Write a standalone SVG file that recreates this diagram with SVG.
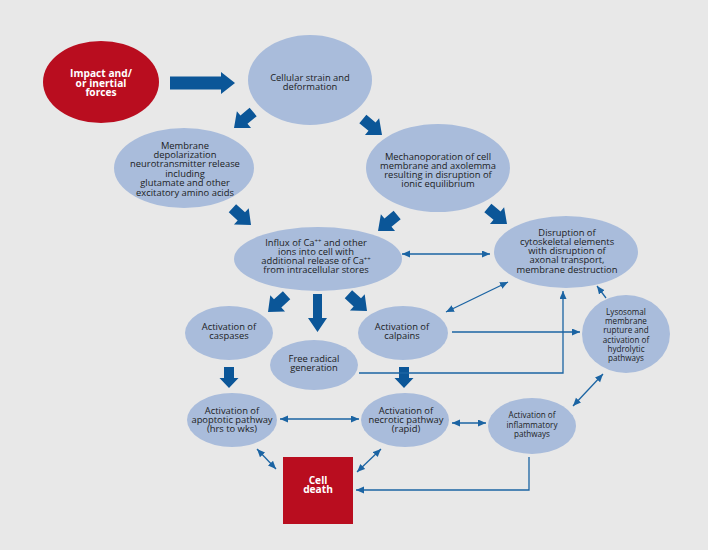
<svg xmlns="http://www.w3.org/2000/svg" xmlns:xlink="http://www.w3.org/1999/xlink" width="708" height="550" viewBox="0 0 708 550">
<style>
.n{fill:#a9bcdb}
.r{fill:#b90d1f}
.t{font-family:"Open Sans","Liberation Sans",sans-serif;font-size:9.4px;fill:#1c1c24;text-anchor:middle}
.s{font-size:8.1px}
.w{font-family:"Open Sans","Liberation Sans",sans-serif;font-size:10.2px;font-weight:bold;fill:#ffffff;text-anchor:middle}
.ln{fill:none;stroke:#1b64a3;stroke-width:1.3}
.fa{fill:#0b5698}
.sup{font-size:6px}
</style>
<defs>
<marker id="ah" markerUnits="userSpaceOnUse" markerWidth="9" markerHeight="8" refX="8" refY="3.5" orient="auto-start-reverse">
<path d="M0,0 L8,3.5 L0,7 Z" fill="#1b64a3"/>
</marker>
<path id="fat" d="M0,0 L-13,-11 L-13,-5.5 L-25,-5.5 L-25,5.5 L-13,5.5 L-13,11 Z"/>
<path id="short" d="M0,0 L-10,-9.5 L-10,-5 L-21,-5 L-21,5 L-10,5 L-10,9.5 Z"/>
<path id="long" d="M0,0 L-14,-9.5 L-14,-4.5 L-38,-4.5 L-38,4.5 L-14,4.5 L-14,9.5 Z"/>
</defs>
<rect x="0" y="0" width="708" height="550" fill="#e8e8e8"/>

<g id="impact">
<ellipse class="r" cx="101" cy="82" rx="58" ry="41"/>
<text class="w" x="101"><tspan x="101" y="77">Impact and/</tspan><tspan x="101" y="86.5">or inertial</tspan><tspan x="101" y="96">forces</tspan></text>
</g>
<g id="cellular">
<ellipse class="n" cx="310" cy="80" rx="62" ry="45"/>
<text class="t"><tspan x="310" y="81">Cellular strain and</tspan><tspan x="310" y="90">deformation</tspan></text>
</g>
<g id="membrane">
<ellipse class="n" cx="184" cy="168" rx="70" ry="40"/>
<text class="t"><tspan x="185" y="148.5">Membrane</tspan><tspan x="185" y="157.9">depolarization</tspan><tspan x="185" y="167.3">neurotransmitter release</tspan><tspan x="185" y="176.7">including</tspan><tspan x="185" y="186.1">glutamate and other</tspan><tspan x="185" y="195.5">excitatory amino acids</tspan></text>
</g>
<g id="mechano">
<ellipse class="n" cx="438" cy="168" rx="72" ry="44"/>
<text class="t"><tspan x="438" y="160.3">Mechanoporation of cell</tspan><tspan x="438" y="169.3">membrane and axolemma</tspan><tspan x="438" y="178.3">resulting in disruption of</tspan><tspan x="438" y="187.3">ionic equilibrium</tspan></text>
</g>
<g id="influx">
<ellipse class="n" cx="318" cy="259" rx="84" ry="32"/>
<text class="t"><tspan x="316" y="245.5">Influx of Ca<tspan class="sup" dy="-3">++</tspan><tspan dy="3"> and other</tspan></tspan><tspan x="316" y="254.5">ions into cell with</tspan><tspan x="316" y="263.5">additional release of Ca<tspan class="sup" dy="-3">++</tspan></tspan><tspan x="316" y="272.5">from intracellular stores</tspan></text>
</g>
<g id="disruption">
<ellipse class="n" cx="566" cy="252" rx="72" ry="36"/>
<text class="t"><tspan x="567" y="236.3">Disruption of</tspan><tspan x="567" y="245.3">cytoskeletal elements</tspan><tspan x="567" y="254.3">with disruption of</tspan><tspan x="567" y="263.3">axonal transport,</tspan><tspan x="567" y="272.8">membrane destruction</tspan></text>
</g>
<g id="caspases">
<ellipse class="n" cx="229" cy="333" rx="44" ry="27"/>
<text class="t"><tspan x="229" y="330.3">Activation of</tspan><tspan x="229" y="339.3">caspases</tspan></text>
</g>
<g id="freeradical">
<ellipse class="n" cx="314" cy="365" rx="44" ry="25"/>
<text class="t"><tspan x="314" y="362.3">Free radical</tspan><tspan x="314" y="371.3">generation</tspan></text>
</g>
<g id="calpains">
<ellipse class="n" cx="403" cy="333" rx="45" ry="27"/>
<text class="t"><tspan x="402" y="330.3">Activation of</tspan><tspan x="402" y="339.3">calpains</tspan></text>
</g>
<g id="lysosomal">
<ellipse class="n" cx="626" cy="334" rx="44" ry="39"/>
<text class="t s"><tspan x="626" y="315">Lysosomal</tspan><tspan x="626" y="324.2">membrane</tspan><tspan x="626" y="333.4">rupture and</tspan><tspan x="626" y="342.6">activation of</tspan><tspan x="626" y="351.8">hydrolytic</tspan><tspan x="626" y="361">pathways</tspan></text>
</g>
<g id="apoptotic">
<ellipse class="n" cx="232" cy="420" rx="45" ry="27"/>
<text class="t"><tspan x="232" y="414.3">Activation of</tspan><tspan x="232" y="423.3">apoptotic pathway</tspan><tspan x="232" y="432.3">(hrs to wks)</tspan></text>
</g>
<g id="necrotic">
<ellipse class="n" cx="405" cy="420" rx="44" ry="27"/>
<text class="t"><tspan x="406" y="414.3">Activation of</tspan><tspan x="406" y="423.3">necrotic pathway</tspan><tspan x="406" y="432.3">(rapid)</tspan></text>
</g>
<g id="inflammatory">
<ellipse class="n" cx="532" cy="426" rx="44" ry="28"/>
<text class="t s"><tspan x="532" y="418">Activation of</tspan><tspan x="532" y="427.5">inflammatory</tspan><tspan x="532" y="437">pathways</tspan></text>
</g>
<g id="celldeath">
<rect class="r" x="283" y="457" width="70" height="67"/>
<text class="w"><tspan x="318" y="483.5">Cell</tspan><tspan x="318" y="493">death</tspan></text>
</g>

<g id="connectors">
<path class="fa" d="M170,76.5 L221,76.5 L221,72 L235,83 L221,94 L221,89.5 L170,89.5 Z"/>
<use href="#fat" class="fa" transform="translate(234,128) rotate(140)"/>
<use href="#fat" class="fa" transform="translate(382,135) rotate(40)"/>
<use href="#fat" class="fa" transform="translate(251,225) rotate(42)"/>
<use href="#fat" class="fa" transform="translate(378,231) rotate(140)"/>
<use href="#fat" class="fa" transform="translate(507,224) rotate(40)"/>
<use href="#fat" class="fa" transform="translate(268,312) rotate(138)"/>
<use href="#fat" class="fa" transform="translate(367,311) rotate(42)"/>
<use href="#long" class="fa" transform="translate(317.5,332) rotate(90)"/>
<use href="#short" class="fa" transform="translate(229,388) rotate(90)"/>
<use href="#short" class="fa" transform="translate(404,388) rotate(90)"/>

<line class="ln" x1="402" y1="254" x2="490" y2="254" marker-start="url(#ah)" marker-end="url(#ah)"/>
<line class="ln" x1="446" y1="312" x2="508" y2="282" marker-start="url(#ah)" marker-end="url(#ah)"/>
<line class="ln" x1="452" y1="332" x2="580" y2="332" marker-end="url(#ah)"/>
<polyline class="ln" points="359,373 563,373 563,291" marker-end="url(#ah)"/>
<line class="ln" x1="606" y1="298" x2="597" y2="286" marker-end="url(#ah)"/>
<line class="ln" x1="603" y1="374" x2="573" y2="406" marker-start="url(#ah)" marker-end="url(#ah)"/>
<line class="ln" x1="280" y1="419" x2="359" y2="419" marker-start="url(#ah)" marker-end="url(#ah)"/>
<line class="ln" x1="452" y1="423" x2="486" y2="423" marker-start="url(#ah)" marker-end="url(#ah)"/>
<polyline class="ln" points="529,457 529,490 356,490" marker-end="url(#ah)"/>
<line class="ln" x1="257" y1="449" x2="276" y2="469" marker-start="url(#ah)" marker-end="url(#ah)"/>
<line class="ln" x1="381" y1="449" x2="357" y2="472" marker-start="url(#ah)" marker-end="url(#ah)"/>
</g>
</svg>
